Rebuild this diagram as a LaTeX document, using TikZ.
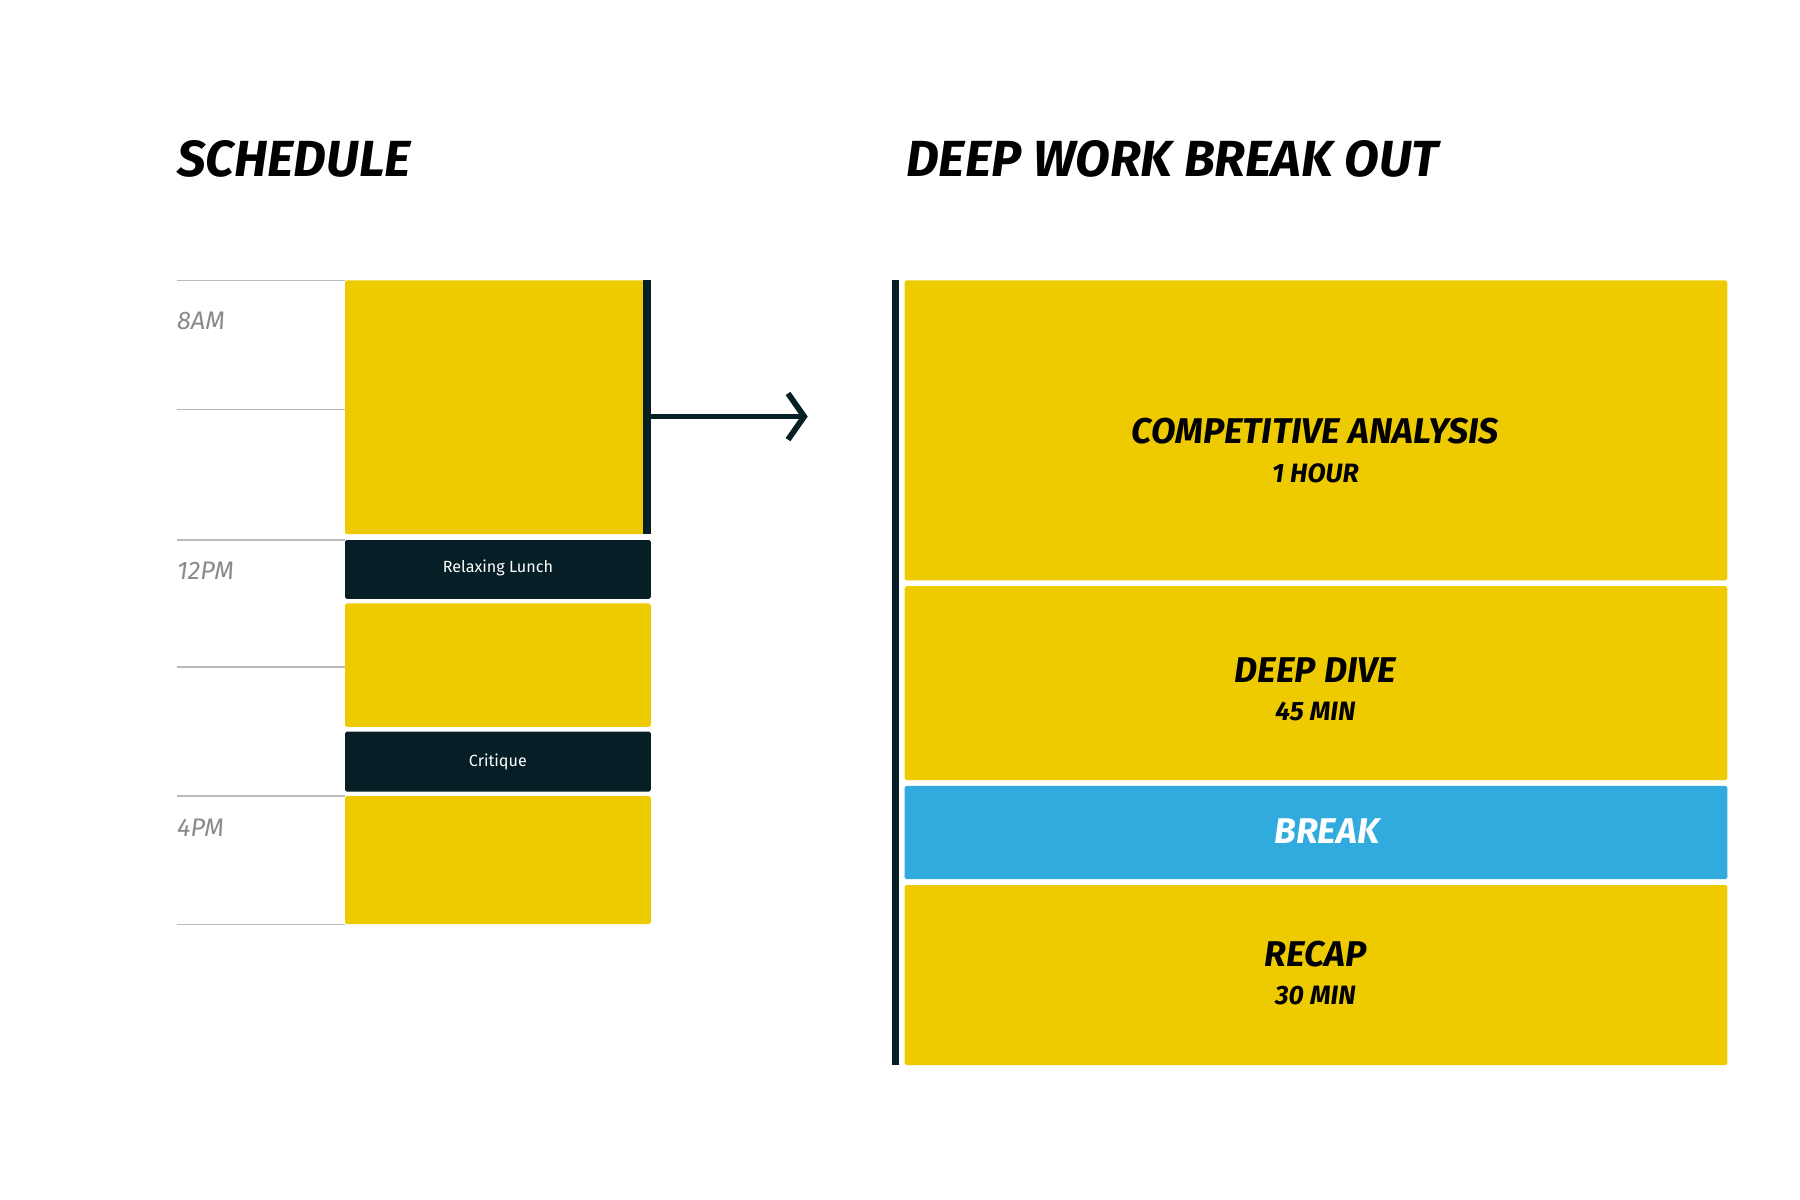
\documentclass[tikz,border=0pt]{standalone}
\usepackage{fontspec}
\setmainfont{Fira Sans}
\usetikzlibrary{arrows.meta}
\definecolor{yel}{HTML}{EECB00}
\definecolor{dark}{HTML}{061E25}
\definecolor{blu}{HTML}{31ABDE}
\definecolor{gry}{HTML}{8A8A8A}
\begin{document}
\begin{tikzpicture}[x=1pt,y=-1pt,
  blk/.style={fill=yel,draw=none,rounded corners=1.5pt},
  dblk/.style={fill=dark,draw=none,rounded corners=1.5pt},
  gl/.style={draw=gry!60,line width=1.2pt},
  title/.style={font=\fontsize{44}{48}\selectfont\bfseries\itshape,anchor=west},
  tlab/.style={font=\fontsize{22}{24}\selectfont\itshape,text=gry,anchor=west},
  big/.style={font=\fontsize{31}{34}\selectfont\bfseries\itshape},
  sm/.style={font=\fontsize{23}{26}\selectfont\bfseries\itshape}]
\useasboundingbox (0,0) rectangle (1560,1040);
\node[title] (t1) at (150,138) {SCHEDULE};
\node[title] (t2) at (782,138) {DEEP WORK BREAK OUT};
% grid lines
\foreach \y in {243,355,468,578,690,801} \draw[gl] (153,\y) -- (299,\y);
\node[tlab] (l8) at (150,278) {8AM};
\node[tlab] (l12) at (150,495) {12PM};
\node[tlab] (l4) at (150,717) {4PM};
% left blocks
\fill[blk] (299,243) rectangle (560,463);
\fill[dark] (557.5,243) rectangle (564,463);
\fill[dblk] (299,468) rectangle (564,519);
\node[text=white,font=\fontsize{14}{16}\selectfont] (rl) at (431.5,492) {Relaxing Lunch};
\fill[blk] (299,523) rectangle (564,630);
\fill[dblk] (299,634) rectangle (564,686);
\node[text=white,font=\fontsize{14}{16}\selectfont] (cr) at (431.5,660) {Critique};
\fill[blk] (299,690) rectangle (564,801);
% arrow
\coordinate (as) at (564,361);
\coordinate (ae) at (700,361);
\draw[dark,line width=5pt,-{Straight Barb[length=14pt,width=40pt,line width=5pt]}] (as) -- (ae);
% right
\fill[dark] (773,243) rectangle (779.5,923);
\fill[blk] (784,243) rectangle (1497,503);
\node[big] (a1) at (1140,374) {COMPETITIVE ANALYSIS};
\node[sm] (a2) at (1140,410) {1 HOUR};
\fill[blk] (784,508) rectangle (1497,676);
\node[big] (b1) at (1140,581) {DEEP DIVE};
\node[sm] (b2) at (1140,617) {45 MIN};
\fill[fill=blu,rounded corners=1.5pt] (784,681) rectangle (1497,762);
\node[big,text=white] (c1) at (1150,720) {BREAK};
\fill[blk] (784,767) rectangle (1497,923);
\node[big] (d1) at (1140,827) {RECAP};
\node[sm] (d2) at (1140,863) {30 MIN};
\end{tikzpicture}
\end{document}
